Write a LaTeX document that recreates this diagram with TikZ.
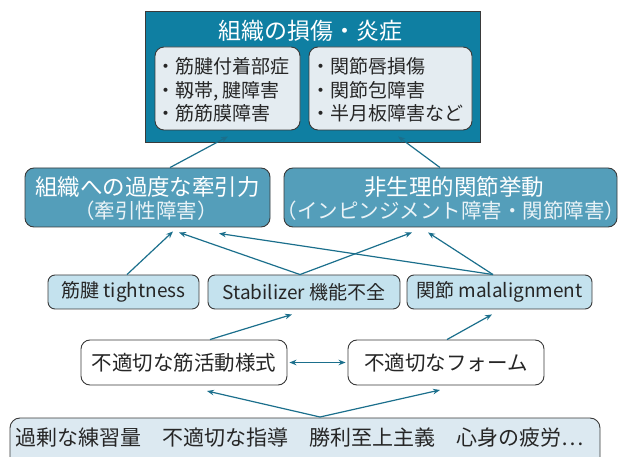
\documentclass[tikz,border=0pt]{standalone}
\usepackage{fontspec}
\setmainfont{Noto Sans CJK JP}
\usetikzlibrary{arrows.meta}
\definecolor{darkbox}{HTML}{0F7FA2}
\definecolor{midbox}{HTML}{549EBA}
\definecolor{innerbox}{HTML}{E4ECF1}
\definecolor{lightbox}{HTML}{C4E2EE}
\definecolor{basebox}{HTML}{DCE9F1}
\definecolor{arrowc}{HTML}{1B6F8C}
\definecolor{bordc}{HTML}{3A3A3A}
\definecolor{subtxt}{HTML}{EAF3F7}
\tikzset{
  boxbase/.style={draw=bordc, line width=0.9pt, inner sep=0pt, rounded corners=9pt},
  inbox/.style={boxbase, fill=innerbox},
  midnode/.style={boxbase, fill=midbox},
  lightnode/.style={boxbase, fill=lightbox, rounded corners=7pt},
  whitenode/.style={boxbase, fill=white, rounded corners=9pt},
  txt/.style={inner sep=0pt, text=black!85},
  arr/.style={draw=arrowc, line width=1.2pt, -{Stealth[length=7pt,width=5.5pt]}},
  darr/.style={draw=arrowc, line width=1.2pt, {Stealth[length=7pt,width=5.5pt]}-{Stealth[length=7pt,width=5.5pt]}}
}
\begin{document}
\begin{tikzpicture}[x=1pt,y=-1pt]
\useasboundingbox (0,0) rectangle (627,457);
% top box
\node[draw=bordc, line width=0.9pt, fill=darkbox, minimum width=335pt, minimum height=131pt, inner sep=0pt] (top) at (312.5,76.5) {};
\node[inner sep=0pt, text=white, font=\fontsize{23}{25}\selectfont] (toptitle) at (310,31) {組織の損傷・炎症};
\node[inbox, minimum width=145pt, minimum height=83pt] (inL) at (227.5,88.5) {};
\node[inbox, minimum width=163pt, minimum height=83pt] (inR) at (390.5,88.5) {};
\node[txt, anchor=west, align=left, font=\fontsize{19}{23.5}\selectfont] (inLt) at (156,90) {・筋腱付着部症\\・靱帯, 腱障害\\・筋筋膜障害};
\node[txt, anchor=west, align=left, font=\fontsize{19}{23.5}\selectfont] (inRt) at (311,90) {・関節唇損傷\\・関節包障害\\・半月板障害など};
% row 2
\node[midnode, minimum width=245pt, minimum height=59pt] (r2a) at (147.5,197.5) {};
\node[inner sep=0pt, text=white, font=\fontsize{22.5}{24}\selectfont] (r2am) at (147.5,187) {組織への過度な牽引力};
\node[inner sep=0pt, text=subtxt, font=\fontsize{20.5}{22}\selectfont] (r2as) at (146,211) {（牽引性障害）};
\node[midnode, minimum width=333pt, minimum height=59pt] (r2b) at (450.5,197.5) {};
\node[inner sep=0pt, text=white, font=\fontsize{22.5}{24}\selectfont] (r2bm) at (454,187) {非生理的関節挙動};
\node[inner sep=0pt, text=subtxt, font=\fontsize{20.5}{22}\selectfont] (r2bs) at (451,211) {（インピンジメント障害・関節障害）};
% row 3
\node[lightnode, minimum width=151pt, minimum height=34pt, font=\fontsize{19}{21}\selectfont, text=black!85] (r3a) at (123.5,292) {筋腱 tightness};
\node[lightnode, minimum width=192pt, minimum height=34pt, font=\fontsize{19}{21}\selectfont, text=black!85] (r3b) at (304,292) {Stabilizer 機能不全};
\node[lightnode, minimum width=185pt, minimum height=34pt, font=\fontsize{19}{21}\selectfont, text=black!85] (r3c) at (499.5,292) {関節 malalignment};
% row 4
\node[whitenode, minimum width=206pt, minimum height=45pt, font=\fontsize{20.5}{22}\selectfont, text=black!85] (r4a) at (184,362.5) {不適切な筋活動様式};
\node[whitenode, minimum width=196pt, minimum height=45pt, font=\fontsize{20.5}{22}\selectfont, text=black!85] (r4b) at (446,362.5) {不適切なフォーム};
% row 5
\draw[draw=bordc, line width=0.9pt, fill=basebox, rounded corners=10pt] (10,475) -- (10,418) -- (600,418) -- (600,475);
\node[txt, anchor=west, font=\fontsize{21}{23}\selectfont] (r5t) at (15,438) {過剰な練習量\hspace{1em}不適切な指導\hspace{1em}勝利至上主義\hspace{1em}心身の疲労…};
% connectors
\coordinate (j) at (320,417);
\coordinate (t4a) at (207,391);
\coordinate (t4b) at (440,390);
\draw[arr] (j) -- (t4a);
\draw[arr] (j) -- (t4b);
\draw[darr] ([xshift=2pt]r4a.east) -- ([xshift=-2pt]r4b.west);
\draw[arr] ([xshift=26pt]r4a.north) -- ([xshift=-12pt,yshift=-5pt]r3b.south);
\draw[arr] ([xshift=1pt]r4b.north) -- ([xshift=-7.5pt,yshift=-5pt]r3c.south);
\draw[arr] ([xshift=3.5pt]r3a.north) -- ([xshift=25.5pt,yshift=-4pt]r2a.south);
\draw[arr] ([xshift=-4pt]r3b.north) -- ([xshift=31.5pt,yshift=-5pt]r2a.south);
\draw[arr] ([xshift=-4pt]r3b.north) -- ([xshift=-38.5pt,yshift=-5pt]r2b.south);
\draw[arr] ([xshift=-6.5pt]r3c.north) -- ([xshift=71.5pt,yshift=-6pt]r2a.south);
\draw[arr] ([xshift=-6.5pt]r3c.north) -- ([xshift=-22.5pt,yshift=-5pt]r2b.south);
\draw[arr] ([xshift=22.5pt]r2a.north) -- ([xshift=-84.5pt,yshift=6pt]top.south);
\draw[arr] ([xshift=-10.5pt]r2b.north) -- ([xshift=85.5pt,yshift=6pt]top.south);
\end{tikzpicture}
\end{document}
